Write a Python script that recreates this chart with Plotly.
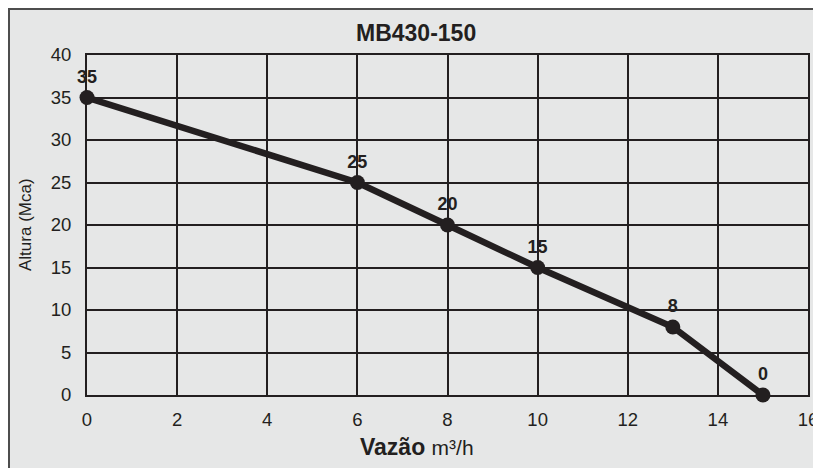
import plotly.graph_objects as go

flow = [0, 6, 8, 10, 13, 15]
head = [35, 25, 20, 15, 8, 0]
labels = ["35", "25", "20", "15", "8", "0"]
x_ticks = [0, 2, 4, 6, 8, 10, 12, 14, 16]
y_ticks = [0, 5, 10, 15, 20, 25, 30, 35, 40]

dark = "#231f20"
panel = "#e6e7e7"
FONT = "Arial, Liberation Sans, sans-serif"

OFF = 8  # page body margin
W, H = 821, 468
L, R, T, B = 87 - OFF, 21, 55 - OFF, 81
pw, ph = W - L - R, H - T - B

def px_x(px):
    return (px - OFF - L) / pw

def px_y(py):
    return (H - B - (py - OFF)) / ph

fig = go.Figure()
fig.add_trace(go.Scatter(
    x=flow, y=head, mode="lines+markers+text",
    line=dict(color=dark, width=6.5),
    marker=dict(color=dark, size=15),
    text=[f"<b>{t}</b>" for t in labels],
    textposition="top center",
    textfont=dict(family=FONT, size=18, color=dark),
    cliponaxis=False, showlegend=False, hoverinfo="skip"))

fig.add_shape(type="rect", xref="paper", yref="paper",
              x0=px_x(9), x1=px_x(850), y0=px_y(500), y1=px_y(9),
              fillcolor=panel, line=dict(color="#4d4d4d", width=2), layer="below")

fig.add_annotation(text="<b>MB430-150</b>", xref="paper", yref="paper",
                   x=px_x(416), y=px_y(33), xanchor="center", yanchor="middle", showarrow=False,
                   font=dict(family=FONT, size=23, color=dark))
fig.add_annotation(text="<b>Vazão</b> <span style='font-size:21px'>m³/h</span>", xref="paper", yref="paper",
                   x=px_x(417), y=px_y(447), xanchor="center", yanchor="middle", showarrow=False,
                   font=dict(family=FONT, size=23, color=dark))
fig.add_annotation(text="Altura (Mca)", xref="paper", yref="paper", textangle=-90,
                   x=px_x(25), y=px_y(225), xanchor="center", yanchor="middle", showarrow=False,
                   font=dict(family=FONT, size=17, color=dark))

fig.update_xaxes(range=[0, 16], tickvals=x_ticks, ticktext=[str(v) for v in x_ticks],
                 showgrid=True, gridcolor=dark, gridwidth=2, zeroline=False,
                 showline=True, linecolor=dark, linewidth=2, mirror=True,
                 ticks="outside", ticklen=7, tickcolor="rgba(0,0,0,0)",
                 tickfont=dict(family=FONT, size=18.5, color=dark))
fig.update_yaxes(range=[0, 40], tickvals=y_ticks, ticktext=[str(v) for v in y_ticks],
                 showgrid=True, gridcolor=dark, gridwidth=2, zeroline=False,
                 showline=True, linecolor=dark, linewidth=2, mirror=True,
                 ticks="outside", ticklen=10, tickcolor="rgba(0,0,0,0)",
                 tickfont=dict(family=FONT, size=18.5, color=dark))

fig.update_layout(width=W, height=H, margin=dict(l=L, r=R, t=T, b=B),
                  paper_bgcolor="white", plot_bgcolor=panel)
fig.write_html("out.html")
